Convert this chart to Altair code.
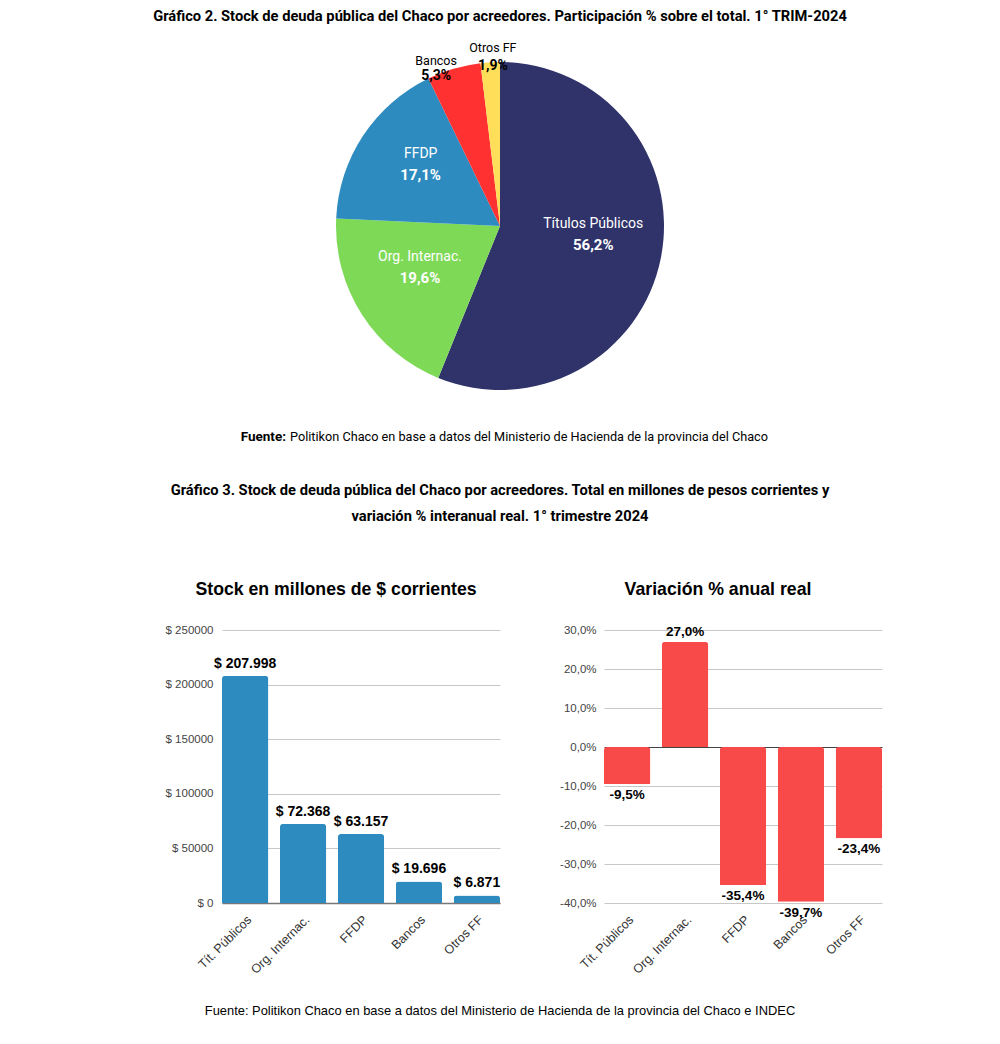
import altair as alt
import pandas as pd

# ---------------- data ----------------
pie_names = ["Títulos Públicos", "Org. Internac.", "FFDP", "Bancos", "Otros FF"]
pie_share = [56.2, 19.6, 17.1, 5.3, 1.9]
pie_colors = ["#2F3369", "#7ED957", "#2E8BC0", "#FF3131", "#FFDE59"]

bar_cats = ["Tít. Públicos", "Org. Internac.", "FFDP", "Bancos", "Otros FF"]
stock_values = [207998, 72368, 63157, 19696, 6871]
chg_values = [-9.5, 27.0, -35.4, -39.7, -23.4]

stock_ticks = [0, 50000, 100000, 150000, 200000, 250000]
chg_ticks = [-40, -30, -20, -10, 0, 10, 20, 30]

title1 = "Gráfico 2. Stock de deuda pública del Chaco por acreedores. Participación % sobre el total. 1° TRIM-2024"
source1_bold = "Fuente:"
source1_rest = "Politikon Chaco en base a datos del Ministerio de Hacienda de la provincia del Chaco"
title2_line1 = "Gráfico 3. Stock de deuda pública del Chaco por acreedores. Total en millones de pesos corrientes y"
title2_line2 = "variación % interanual real. 1° trimestre 2024"
left_title = "Stock en millones de $ corrientes"
right_title = "Variación % anual real"
source2 = "Fuente: Politikon Chaco en base a datos del Ministerio de Hacienda de la provincia del Chaco e INDEC"

NARROW = "Roboto, sans-serif"
SANS = "Liberation Sans, Arial, sans-serif"

# ---------------- helpers ----------------
def text_layer(txt, x, y, size, weight="normal", align="center", font=NARROW, color="black"):
    return alt.Chart(pd.DataFrame({"t": [txt]})).mark_text(
        align=align, baseline="middle", fontSize=size, fontWeight=weight, font=font, color=color
    ).encode(text="t:N", x=alt.value(x), y=alt.value(y))

# ---------------- row 1: pie + titles ----------------
pie_df = pd.DataFrame({"name": pie_names, "share": pie_share, "ord": list(range(len(pie_names)))})
pie_df["pct"] = [f"{v:.1f}".replace(".", ",") + "%" for v in pie_share]

CX, CY, R = 492, 218, 164
base = alt.Chart(pie_df).encode(
    theta=alt.Theta("share:Q", stack=True),
    order=alt.Order("ord:Q"),
    detail="name:N",
    x=alt.value(CX),
    y=alt.value(CY),
)
arcs = base.mark_arc(outerRadius=R).encode(
    color=alt.Color("name:N", scale=alt.Scale(domain=pie_names, range=pie_colors), legend=None)
)
inner = "datum.share > 10"
medium = "datum.share <= 10 && datum.share > 3"
small = "datum.share <= 3"


def pie_label(cond, field, radius, dx, dy, size, weight, color):
    return base.mark_text(
        radius=radius, dx=dx, dy=dy, fontSize=size, fontWeight=weight, font=NARROW, color=color
    ).encode(text=alt.condition(cond, alt.Text(f"{field}:N"), alt.value("")))


pie_labels = [
    pie_label(inner, "name", 95, 0, -20, 14, "normal", "white"),
    pie_label(inner, "pct", 95, 0, 1, 15, "bold", "white"),
    pie_label(medium, "name", 170, -16, -2, 12.5, "normal", "black"),
    pie_label(medium, "pct", 170, -16, 13, 14, "bold", "black"),
    pie_label(small, "name", 170, 3, -8, 12.5, "normal", "black"),
    pie_label(small, "pct", 170, 3, 10, 14, "bold", "black"),
]

row1 = alt.layer(
    arcs, *pie_labels,
    text_layer(title1, 492, 9, 14.7, "bold"),
    text_layer(source1_bold, 278, 429, 13.5, "bold", align="right"),
    text_layer(source1_rest, 282, 429, 12.7, align="left"),
    text_layer(title2_line1, 492, 483, 14.7, "bold"),
    text_layer(title2_line2, 492, 509, 14.7, "bold"),
    text_layer(left_title, 328, 582, 17.7, "bold", font=SANS),
    text_layer(right_title, 710, 582, 17.7, "bold", font=SANS),
).properties(width=984, height=616)

# ---------------- row 2: bar charts ----------------
bar_df = pd.DataFrame({"cat": bar_cats, "stock": stock_values, "chg": chg_values})
bar_df["stock_lbl"] = ["$ " + f"{v:,}".replace(",", ".") for v in stock_values]
bar_df["chg_lbl"] = [f"{v:.1f}".replace(".", ",") + "%" for v in chg_values]


def x_enc(domain_line):
    ax = alt.Axis(
        title=None, labelAngle=-45, labelAlign="right", labelBaseline="top",
        labelFontSize=12.5, labelColor="#333", labelFont=SANS, ticks=False,
        labelPadding=10, domain=domain_line, domainColor="#777", domainWidth=1.5, grid=False,
    )
    return alt.X("cat:N", sort=bar_cats, scale=alt.Scale(paddingInner=0.2, paddingOuter=0), axis=ax)


y_left = alt.Y(
    "stock:Q",
    scale=alt.Scale(domain=[0, 250000], nice=False),
    axis=alt.Axis(
        values=stock_ticks, labelExpr="'$ ' + datum.value", title=None, grid=True,
        gridColor="#c8c8c8", domain=False, ticks=False, labelPadding=9,
        labelFontSize=11.5, labelColor="#444", labelFont=SANS, labelOverlap=False,
    ),
)
left_base = alt.Chart(bar_df).encode(x=x_enc(True), y=y_left)
lbars = left_base.mark_bar(color="#2E8BC0", cornerRadiusEnd=3)
ltext = left_base.mark_text(baseline="bottom", dy=-5, fontSize=14, fontWeight="bold", font=SANS, color="black").encode(
    text="stock_lbl:N"
)
left = alt.layer(lbars, ltext).properties(width=278, height=273)

y_right = alt.Y(
    "chg:Q",
    scale=alt.Scale(domain=[-40, 30], nice=False, zero=True),
    axis=alt.Axis(
        values=chg_ticks,
        labelExpr="(datum.value < 0 ? '-' : '') + replace(format(abs(datum.value), '.1f'), '.', ',') + '%'",
        title=None, grid=True,
        gridColor={"condition": {"test": "datum.value === 0", "value": "#444"}, "value": "#c8c8c8"},
        domain=False, ticks=False, labelOverlap=False, tickCount=8,
        labelPadding=8, labelFontSize=11.5, labelColor="#444", labelFont=SANS,
    ),
)
right_base = alt.Chart(bar_df).encode(x=x_enc(False), y=y_right)
rbars = right_base.mark_bar(color="#F94A4A", cornerRadiusEnd=3)
rtext_pos = right_base.transform_filter("datum.chg >= 0").mark_text(
    baseline="bottom", dy=-3, fontSize=13.5, fontWeight="bold", font=SANS, color="black"
).encode(text="chg_lbl:N")
rtext_neg = right_base.transform_filter("datum.chg < 0").mark_text(
    baseline="top", dy=4, fontSize=13.5, fontWeight="bold", font=SANS, color="black"
).encode(text="chg_lbl:N")
right = alt.layer(rbars, rtext_pos, rtext_neg).properties(width=278, height=273)

spacer = alt.Chart(pd.DataFrame({"t": [""]})).mark_text().encode(text="t:N").properties(width=110, height=273)

row2 = alt.hconcat(spacer, left, right, spacing=104, bounds="flush")

# ---------------- row 3: source ----------------
row3 = alt.layer(text_layer(source2, 492, 35, 12.9, font=SANS)).properties(width=984, height=50)

chart = (
    alt.vconcat(row1, row2, row3, spacing=0)
    .properties(padding=0)
    .configure(font=SANS)
    .configure_view(strokeWidth=0)
)

chart.save("out.html", embed_options={"renderer": "svg", "actions": False})
